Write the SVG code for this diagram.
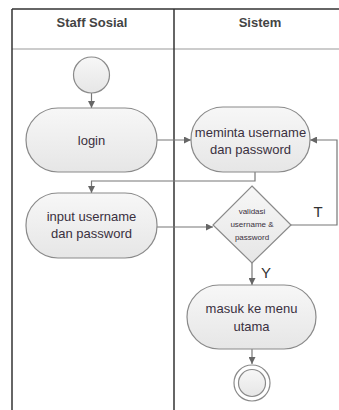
<svg xmlns="http://www.w3.org/2000/svg" width="339" height="410" viewBox="0 0 339 410">
<defs>
<linearGradient id="g" x1="0" y1="0" x2="0" y2="1">
<stop offset="0" stop-color="#f7f7f7"/>
<stop offset="1" stop-color="#e6e6e6"/>
</linearGradient>
<marker id="ah" viewBox="0 0 10 10" refX="10" refY="5" markerWidth="7" markerHeight="7" markerUnits="userSpaceOnUse" orient="auto">
<path d="M0,0 L10,5 L0,10 z" fill="#666"/>
</marker>
</defs>
<style>
.node{fill:url(#g);stroke:#8a8a8a;stroke-width:1.2}
.t{font-family:"Liberation Sans",Arial,sans-serif;font-size:13px;fill:#3a3040;text-anchor:middle}
.s{font-family:"Liberation Sans",Arial,sans-serif;font-size:8px;fill:#3a3040;text-anchor:middle}
.h{font-family:"Liberation Sans",Arial,sans-serif;font-size:13px;font-weight:bold;fill:#444;text-anchor:middle}
.lbl{font-family:"Liberation Sans",Arial,sans-serif;font-size:15px;fill:#333;text-anchor:middle}
.c{fill:none;stroke:#777;stroke-width:1.2;marker-end:url(#ah)}
</style>
<rect width="339" height="410" fill="#fff"/>
<g id="lanes">
<line x1="12" y1="9" x2="345" y2="9" stroke="#333" stroke-width="1.5"/>
<line x1="12" y1="49" x2="345" y2="49" stroke="#999" stroke-width="1.2"/>
<line x1="12" y1="9" x2="12" y2="410" stroke="#333" stroke-width="1.5"/>
<line x1="174" y1="9" x2="174" y2="410" stroke="#333" stroke-width="1.5"/>
<text class="h" x="92" y="27">Staff Sosial</text>
<text class="h" x="260" y="27">Sistem</text>
</g>
<g id="connectors">
<path class="c" d="M91.5,93 V108"/>
<path class="c" d="M157,140 H191"/>
<path class="c" d="M255,172 V181 H91.5 V193"/>
<path class="c" d="M157,227 H213"/>
<path class="c" d="M291,225 H337 V140 H310"/>
<path class="c" d="M252,263 V285"/>
<path class="c" d="M252,349 V364"/>
<text class="lbl" x="318" y="217">T</text>
<text class="lbl" x="266" y="278">Y</text>
</g>
<g id="start"><circle class="node" cx="91.5" cy="75" r="18"/></g>
<g id="login"><rect class="node" x="26" y="108" width="131" height="64" rx="32"/><text class="t" x="91.5" y="145">login</text></g>
<g id="meminta"><rect class="node" x="191" y="107" width="119" height="65" rx="32"/><text class="t" x="250.5" y="137">meminta username</text><text class="t" x="250.5" y="154">dan password</text></g>
<g id="input"><rect class="node" x="26" y="193" width="131" height="65" rx="32"/><text class="t" x="91.5" y="221">input username</text><text class="t" x="91.5" y="238">dan password</text></g>
<g id="validasi"><polygon class="node" points="252,186 291,225 252,263 213,225"/><text class="s" x="252" y="214">validasi</text><text class="s" x="252" y="227">username &amp;</text><text class="s" x="252" y="240">password</text></g>
<g id="masuk"><rect class="node" x="187" y="285" width="129" height="64" rx="32"/><text class="t" x="251.5" y="313">masuk ke menu</text><text class="t" x="251.5" y="331">utama</text></g>
<g id="end"><circle cx="252" cy="383" r="18" fill="#fff" stroke="#8a8a8a" stroke-width="1.2"/><circle class="node" cx="252" cy="383" r="13.5"/></g>
</svg>
